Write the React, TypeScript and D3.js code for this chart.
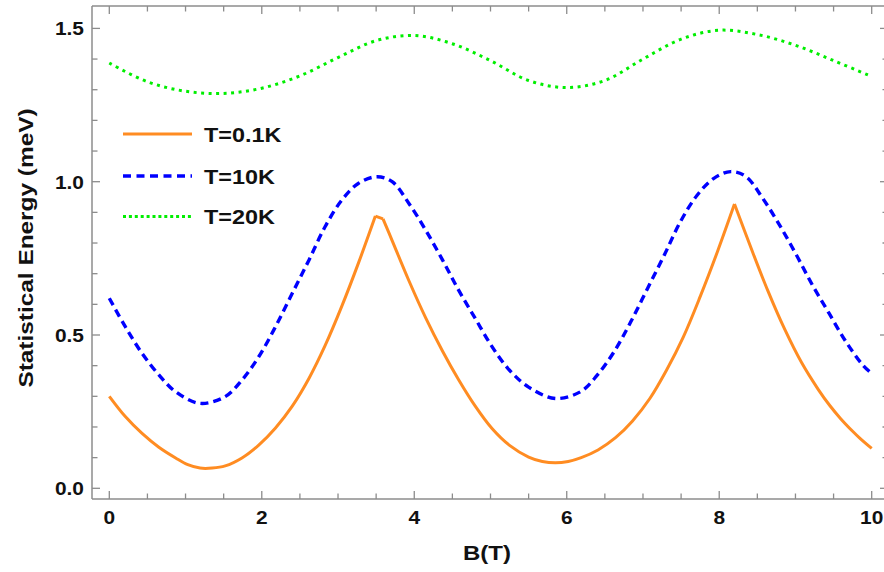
import React from "react";
import * as d3 from "d3";

// Statistical energy vs magnetic field for three temperatures
const orangeB = [0, 0.21, 0.43, 0.65, 0.87, 1.03, 1.19, 1.35, 1.52, 1.74, 1.96, 2.18, 2.4, 2.62, 2.83, 3.05, 3.27, 3.49, 3.59, 3.71, 3.93, 4.15, 4.37, 4.58, 4.8, 5.02, 5.25, 5.5, 5.68, 5.85, 6.02, 6.19, 6.41, 6.64, 6.86, 7.09, 7.31, 7.53, 7.75, 7.98, 8.2, 8.42, 8.64, 8.86, 9.08, 9.3, 9.45, 9.59, 9.75, 9.85, 10];
const orangeV = [0.3, 0.234, 0.179, 0.134, 0.099, 0.077, 0.066, 0.066, 0.073, 0.099, 0.141, 0.197, 0.268, 0.359, 0.465, 0.594, 0.736, 0.888, 0.879, 0.808, 0.677, 0.556, 0.448, 0.355, 0.268, 0.195, 0.14, 0.102, 0.0875, 0.083, 0.0875, 0.1, 0.125, 0.165, 0.219, 0.293, 0.386, 0.494, 0.625, 0.774, 0.927, 0.782, 0.643, 0.518, 0.41, 0.322, 0.27, 0.228, 0.186, 0.162, 0.13];
// field values where the T=0.1K curve has corners
const orangeCusps = [3.49, 3.59, 8.2];

const blueB = [0, 0.21, 0.43, 0.65, 0.87, 1.19, 1.52, 1.74, 1.96, 2.18, 2.4, 2.62, 2.83, 3.05, 3.27, 3.51, 3.71, 3.93, 4.15, 4.37, 4.58, 4.8, 5.02, 5.25, 5.5, 5.85, 6.18, 6.4, 6.62, 6.84, 7.06, 7.28, 7.49, 7.71, 7.93, 8.15, 8.35, 8.57, 8.79, 9.01, 9.22, 9.44, 9.66, 9.89, 10];
const blueV = [0.62, 0.527, 0.44, 0.37, 0.315, 0.277, 0.299, 0.353, 0.429, 0.527, 0.636, 0.745, 0.853, 0.94, 0.995, 1.016, 1.0, 0.929, 0.842, 0.745, 0.647, 0.554, 0.462, 0.385, 0.33, 0.293, 0.315, 0.369, 0.445, 0.543, 0.652, 0.761, 0.869, 0.956, 1.011, 1.033, 1.017, 0.946, 0.859, 0.762, 0.664, 0.571, 0.479, 0.4, 0.375];

const greenB = [0, 0.5, 1, 1.5, 2, 2.5, 3, 3.5, 4, 4.5, 5, 5.5, 6, 6.5, 7, 7.5, 8, 8.5, 9, 9.5, 10];
const greenV = [1.387, 1.326, 1.295, 1.288, 1.305, 1.345, 1.405, 1.46, 1.477, 1.45, 1.395, 1.33, 1.307, 1.33, 1.4, 1.465, 1.494, 1.48, 1.445, 1.395, 1.343];

const legendLabels = ["T=0.1K", "T=10K", "T=20K"];
const xMajorTicks = [0, 2, 4, 6, 8, 10];
const yMajorTicks = [0, 0.5, 1, 1.5];
const yTickLabels = ["0.0", "0.5", "1.0", "1.5"];

const W = 884;
const H = 572;
const frame = { left: 92, top: 6, right: 888, bottom: 499 };

const x = d3.scaleLinear().domain([0, 10]).range([109.3, 871.7]);
const y = d3.scaleLinear().domain([0, 1.5]).range([488.3, 28.4]);

type Pt = [number, number];
const zip = (bs: number[], vs: number[]): Pt[] => bs.map((b, i) => [b, vs[i]]);

// break a series into pieces at the given x values (the break point belongs to both pieces)
function splitAt(pts: Pt[], cuts: number[]): Pt[][] {
  const parts: Pt[][] = [];
  let cur: Pt[] = [];
  pts.forEach((p) => {
    cur.push(p);
    if (cuts.some((c) => Math.abs(c - p[0]) < 1e-9)) {
      parts.push(cur);
      cur = [p];
    }
  });
  if (cur.length > 1) parts.push(cur);
  return parts;
}

const line = d3
  .line<Pt>()
  .x((d) => x(d[0]))
  .y((d) => y(d[1]))
  .curve(d3.curveCatmullRom.alpha(0.5));

const FONT = "'Liberation Sans', Arial, Helvetica, sans-serif";
const AXIS = "#8c8c8c";

const ORANGE = "#ff8c22";
const BLUE = "#0000ff";
const GREEN = "#00ee00";

export default function App() {
  const orangeParts = splitAt(zip(orangeB, orangeV), orangeCusps);
  const bluePts = zip(blueB, blueV);
  const greenPts = zip(greenB, greenV);

  const xMinor = d3.range(0, 10.001, 0.5).filter((v) => !xMajorTicks.some((m) => Math.abs(m - v) < 1e-9));
  const yMinor = d3.range(0, 1.5001, 0.1).filter((v) => !yMajorTicks.some((m) => Math.abs(m - v) < 1e-9));
  const MAJ = 8;
  const MIN = 5.5;

  const styles = [
    { color: ORANGE, dash: undefined as string | undefined, width: 3, legendDash: undefined as string | undefined },
    { color: BLUE, dash: "8 5", width: 3.4, legendDash: "8 5.5" },
    { color: GREEN, dash: "3 4.5", width: 3, legendDash: "3 2.9" },
  ];
  const legendY = [134, 176, 216.5];

  return (
    <svg
      width={W}
      height={H}
      style={{ position: "absolute", left: 0, top: 0, background: "#fff" }}
      fontFamily={FONT}
    >
      <rect x={0} y={0} width={W} height={H} fill="#fff" />

      {/* frame */}
      <g stroke={AXIS} strokeWidth={1.5} fill="none">
        <line x1={frame.left} x2={frame.right} y1={frame.top} y2={frame.top} />
        <line x1={frame.left} x2={frame.right} y1={frame.bottom} y2={frame.bottom} />
        <line x1={frame.left} x2={frame.left} y1={frame.top} y2={frame.bottom} />
        <line x1={frame.right} x2={frame.right} y1={frame.top} y2={frame.bottom} />
      </g>

      {/* ticks */}
      <g stroke={AXIS} strokeWidth={1.3}>
        {xMajorTicks.map((t) => (
          <g key={"xM" + t}>
            <line x1={x(t)} x2={x(t)} y1={frame.bottom} y2={frame.bottom - MAJ} />
            <line x1={x(t)} x2={x(t)} y1={frame.top} y2={frame.top + MAJ} />
          </g>
        ))}
        {xMinor.map((t) => (
          <g key={"xm" + t}>
            <line x1={x(t)} x2={x(t)} y1={frame.bottom} y2={frame.bottom - MIN} />
            <line x1={x(t)} x2={x(t)} y1={frame.top} y2={frame.top + MIN} />
          </g>
        ))}
        {yMajorTicks.map((t) => (
          <g key={"yM" + t}>
            <line x1={frame.left} x2={frame.left + MAJ} y1={y(t)} y2={y(t)} />
            <line x1={frame.right} x2={frame.right - MAJ} y1={y(t)} y2={y(t)} />
          </g>
        ))}
        {yMinor.map((t) => (
          <g key={"ym" + t}>
            <line x1={frame.left} x2={frame.left + MIN} y1={y(t)} y2={y(t)} />
            <line x1={frame.right} x2={frame.right - MIN} y1={y(t)} y2={y(t)} />
          </g>
        ))}
      </g>

      {/* tick labels */}
      <g fontSize={19} fontWeight="bold" fill="#111">
        {xMajorTicks.map((t) => (
          <text key={"xl" + t} transform={`translate(${x(t)},524) scale(1.1,1)`} textAnchor="middle">
            {String(t)}
          </text>
        ))}
        {yMajorTicks.map((t, i) => (
          <text key={"yl" + t} transform={`translate(84,${y(t) + 7}) scale(1.1,1)`} textAnchor="end">
            {yTickLabels[i]}
          </text>
        ))}
      </g>

      {/* axis titles */}
      <g fontSize={20} fontWeight="bold" fill="#111">
        <text transform="translate(487,560) scale(1.2,1)" textAnchor="middle">
          B(T)
        </text>
        <text transform="translate(33,248) rotate(-90) scale(1.22,1)" textAnchor="middle">
          Statistical Energy (meV)
        </text>
      </g>

      {/* curves */}
      <g fill="none">
        <path d={line(greenPts) || ""} stroke={GREEN} strokeWidth={styles[2].width} strokeDasharray={styles[2].dash} />
        <path d={line(bluePts) || ""} stroke={BLUE} strokeWidth={styles[1].width} strokeDasharray={styles[1].dash} />
        {orangeParts.map((part, i) => (
          <path key={"o" + i} d={line(part) || ""} stroke={ORANGE} strokeWidth={styles[0].width} strokeLinejoin="round" />
        ))}
      </g>

      {/* legend */}
      <g>
        {legendLabels.map((lab, i) => (
          <g key={lab}>
            <line
              x1={123}
              x2={192}
              y1={legendY[i]}
              y2={legendY[i]}
              stroke={styles[i].color}
              strokeWidth={styles[i].width}
              strokeDasharray={styles[i].legendDash}
            />
            <text
              transform={`translate(204,${legendY[i] + 7.5}) scale(1.17,1)`}
              fontSize={20}
              fontWeight="bold"
              fill="#111"
            >
              {lab}
            </text>
          </g>
        ))}
      </g>
    </svg>
  );
}
